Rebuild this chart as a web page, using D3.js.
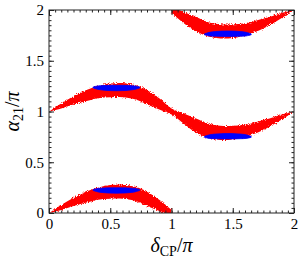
<!DOCTYPE html>
<html>
<head>
<meta charset="utf-8">
<script src="https://cdn.jsdelivr.net/npm/d3@7"></script>
<style>
body { margin: 0; background: #fff; }
svg { display: block; font-family: "Liberation Serif", "Times New Roman", serif; }
</style>
</head>
<body>
<script>
// scatter bands: lower / upper edge of the red cloud at each delta_CP/pi
var xsLeft = [0, 0.1, 0.2, 0.3, 0.4, 0.5, 0.6, 0.7, 0.8, 0.9, 1.0];
var xsRight = [1.0, 1.1, 1.2, 1.3, 1.4, 1.5, 1.6, 1.7, 1.8, 1.9, 2.0];
var xsFull = [0, 0.1, 0.2, 0.3, 0.4, 0.5, 0.6, 0.7, 0.8, 0.9, 1.0,
              1.1, 1.2, 1.3, 1.4, 1.5, 1.6, 1.7, 1.8, 1.9, 2.0];

var band1Upper = [0, 0.08, 0.15, 0.21, 0.25, 0.275, 0.28, 0.26, 0.21, 0.13, 0.03];
var band1Lower = [0, 0.03, 0.07, 0.10, 0.13, 0.14, 0.14, 0.12, 0.07, 0.02, -0.03];

var band2Upper = [1.0, 1.08, 1.15, 1.21, 1.25, 1.275, 1.28, 1.26, 1.21, 1.13, 1.03,
                  0.98, 0.93, 0.88, 0.86, 0.86, 0.87, 0.90, 0.93, 0.97, 1.0];
var band2Lower = [1.0, 1.03, 1.07, 1.10, 1.13, 1.14, 1.14, 1.12, 1.07, 1.02, 0.97,
                  0.88, 0.79, 0.74, 0.72, 0.725, 0.75, 0.79, 0.85, 0.92, 1.0];

var band3Upper = [2.03, 1.98, 1.93, 1.88, 1.86, 1.86, 1.87, 1.90, 1.93, 1.97, 2.0];
var band3Lower = [1.97, 1.87, 1.79, 1.74, 1.72, 1.725, 1.75, 1.79, 1.85, 1.92, 2.0];

// blue clusters
var blueXsLeft = [0.36, 0.40, 0.45, 0.50, 0.55, 0.60, 0.65, 0.70, 0.74];
var blueXsRight = [1.27, 1.31, 1.36, 1.41, 1.46, 1.51, 1.56, 1.61, 1.65];

var blue1Upper = [0.232, 0.242, 0.246, 0.248, 0.248, 0.248, 0.246, 0.242, 0.232];
var blue1Lower = [0.222, 0.208, 0.200, 0.196, 0.195, 0.196, 0.200, 0.208, 0.222];
var blue2Upper = [1.242, 1.252, 1.256, 1.258, 1.258, 1.258, 1.256, 1.252, 1.242];
var blue2Lower = [1.232, 1.218, 1.210, 1.206, 1.205, 1.206, 1.210, 1.218, 1.232];
var blue3Upper = [1.765, 1.780, 1.788, 1.792, 1.793, 1.792, 1.788, 1.780, 1.765];
var blue3Lower = [1.755, 1.745, 1.742, 1.740, 1.740, 1.740, 1.742, 1.745, 1.755];
var blue4Upper = [0.755, 0.770, 0.778, 0.782, 0.783, 0.782, 0.778, 0.770, 0.755];
var blue4Lower = [0.745, 0.735, 0.732, 0.730, 0.730, 0.730, 0.732, 0.735, 0.745];

var majorTicks = [0, 0.5, 1, 1.5, 2];
var tickLabels = ["0", "0.5", "1", "1.5", "2"];

var width = 299,
    height = 264;
var margin = {left: 49, right: 5, top: 10, bottom: 51};

var svg = d3.select("body")
    .append("svg")
    .attr("width", width)
    .attr("height", height);

var x = d3.scaleLinear()
    .domain([0, 2])
    .range([margin.left, width - margin.right]);

var y = d3.scaleLinear()
    .domain([0, 2])
    .range([height - margin.bottom, margin.top]);

var defs = svg.append("defs");
defs.append("clipPath")
    .attr("id", "plot-clip")
    .append("rect")
    .attr("x", x(0))
    .attr("y", y(2))
    .attr("width", x(2) - x(0))
    .attr("height", y(0) - y(2));

// ragged edges so the filled bands look like a point cloud
var rough = defs.append("filter")
    .attr("id", "rough")
    .attr("x", "-5%").attr("y", "-5%")
    .attr("width", "110%").attr("height", "110%");
rough.append("feTurbulence")
    .attr("type", "fractalNoise")
    .attr("baseFrequency", 0.9)
    .attr("numOctaves", 2)
    .attr("seed", 3)
    .attr("result", "noise");
rough.append("feDisplacementMap")
    .attr("in", "SourceGraphic")
    .attr("in2", "noise")
    .attr("scale", 4)
    .attr("xChannelSelector", "R")
    .attr("yChannelSelector", "G");

function band(xs, lower, upper) {
    return xs.map(function (d, i) {
        return {x: d, lo: lower[i], hi: upper[i]};
    });
}

var area = d3.area()
    .x(function (d) { return x(d.x); })
    .y0(function (d) { return y(d.lo); })
    .y1(function (d) { return y(d.hi); })
    .curve(d3.curveCatmullRom);

var redBands = [
    band(xsLeft, band1Lower, band1Upper),
    band(xsFull, band2Lower, band2Upper),
    band(xsRight, band3Lower, band3Upper)
];
var blueBands = [
    band(blueXsLeft, blue1Lower, blue1Upper),
    band(blueXsLeft, blue2Lower, blue2Upper),
    band(blueXsRight, blue3Lower, blue3Upper),
    band(blueXsRight, blue4Lower, blue4Upper)
];

var plot = svg.append("g")
    .attr("clip-path", "url(#plot-clip)");

plot.append("g")
    .attr("filter", "url(#rough)")
    .selectAll("path")
    .data(redBands)
    .enter()
    .append("path")
    .attr("d", area)
    .attr("fill", "#ff0000");

plot.append("g")
    .selectAll("path")
    .data(blueBands)
    .enter()
    .append("path")
    .attr("d", area)
    .attr("fill", "#0000ff")
    .attr("stroke", "#0000ff")
    .attr("stroke-width", 0.8);

// frame with inward ticks on all sides
var minorTicks = d3.range(0, 2.0001, 0.05);

function tickAxis(axis, size, labels) {
    return axis.tickValues(labels ? majorTicks : minorTicks)
        .tickSize(-size)
        .tickPadding(labels ? 5 : 0)
        .tickFormat(function (d, i) { return labels ? tickLabels[i] : ""; });
}

var axes = [
    {make: d3.axisBottom, pos: "translate(0," + y(0) + ")", labels: true},
    {make: d3.axisTop, pos: "translate(0," + y(2) + ")", labels: false},
    {make: d3.axisLeft, pos: "translate(" + x(0) + ",0)", labels: true},
    {make: d3.axisRight, pos: "translate(" + x(2) + ",0)", labels: false}
];

axes.forEach(function (a) {
    var scale = (a.make === d3.axisBottom || a.make === d3.axisTop) ? x : y;
    var minor = svg.append("g")
        .attr("transform", a.pos)
        .call(tickAxis(a.make(scale), 2.5, false));
    minor.select(".domain").remove();
    minor.selectAll("line").attr("stroke", "#222");

    var major = svg.append("g")
        .attr("transform", a.pos)
        .call(tickAxis(a.make(scale), 5, true));
    major.select(".domain").remove();
    major.selectAll("line").attr("stroke", "#222");
    if (!a.labels) {
        major.selectAll("text").remove();
    } else {
        major.selectAll("text")
            .attr("font-family", "Liberation Serif, serif")
            .attr("font-size", "15px")
            .attr("fill", "#000");
    }
});

svg.append("rect")
    .attr("x", x(0))
    .attr("y", y(2))
    .attr("width", x(2) - x(0))
    .attr("height", y(0) - y(2))
    .attr("fill", "none")
    .attr("stroke", "#222")
    .attr("stroke-width", 1);

// axis titles
var xTitle = svg.append("text")
    .attr("x", x(1))
    .attr("y", 252)
    .attr("text-anchor", "middle")
    .attr("font-size", "20px");
xTitle.append("tspan").attr("font-style", "italic").text("δ");
xTitle.append("tspan").attr("font-size", "14px").attr("dy", "4").text("CP");
xTitle.append("tspan").attr("dy", "-4").text("/");
xTitle.append("tspan").attr("font-style", "italic").text("π");

var yTitle = svg.append("text")
    .attr("transform", "translate(19," + y(1) + ") rotate(-90)")
    .attr("text-anchor", "middle")
    .attr("font-size", "20px");
yTitle.append("tspan").attr("font-style", "italic").text("α");
yTitle.append("tspan").attr("font-size", "14px").attr("dy", "4").text("21");
yTitle.append("tspan").attr("dy", "-4").text("/");
yTitle.append("tspan").attr("font-style", "italic").text("π");
</script>
</body>
</html>
